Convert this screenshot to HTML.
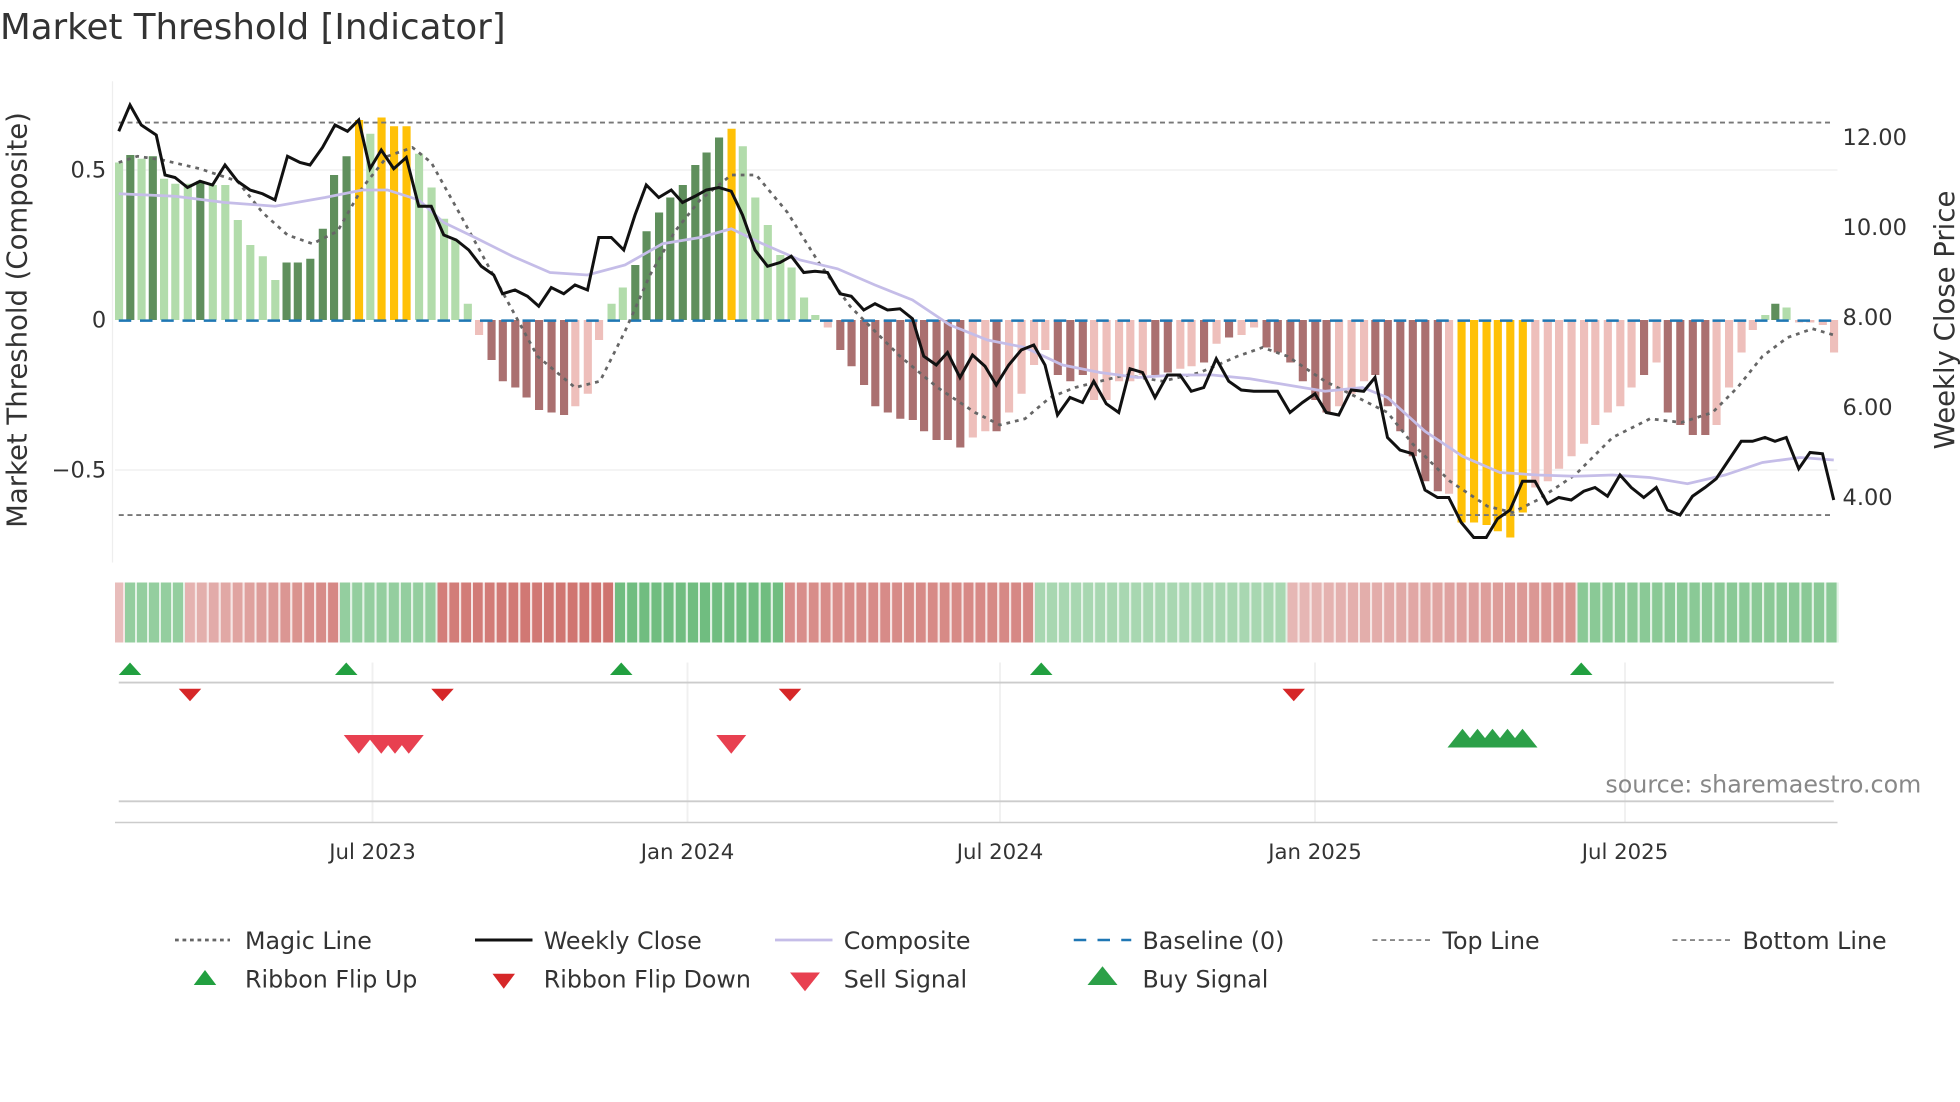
<!DOCTYPE html>
<html><head><meta charset="utf-8"><style>
html,body{margin:0;padding:0;background:#fff;}
svg{display:block;font-family:"DejaVu Sans","Liberation Sans",sans-serif;}
</style></head><body>
<svg id="s" width="1960" height="1102" viewBox="0 0 1568 881.6" preserveAspectRatio="none" xmlns="http://www.w3.org/2000/svg">
<rect width="1568" height="882" fill="#fff"/>
<text x="0" y="31" font-size="28.5" fill="#333">Market Threshold [Indicator]</text>
<line x1="90" y1="65" x2="90" y2="450" stroke="#eee"/>
<line x1="92" y1="136" x2="1470" y2="136" stroke="#eee"/>
<line x1="92" y1="376" x2="1470" y2="376" stroke="#eee"/>
<g id="bars"></g>
<line x1="95" y1="98" x2="1465" y2="98" stroke="#777" stroke-width="1.5" stroke-dasharray="4,3"/>
<line x1="95" y1="412" x2="1465" y2="412" stroke="#777" stroke-width="1.5" stroke-dasharray="4,3"/>
<line x1="95" y1="256.5" x2="1465" y2="256.5" stroke="#1f77b4" stroke-width="2" stroke-dasharray="10,7"/>
<path id="magic" fill="none" stroke="#666" stroke-width="2.2" stroke-dasharray="3,4"/>
<path id="comp" fill="none" stroke="#c5bde8" stroke-width="2.2"/>
<path id="close" fill="none" stroke="#111" stroke-width="2.4"/>
<g font-size="18" fill="#333">
<text x="85" y="142" text-anchor="end">0.5</text>
<text x="85" y="262" text-anchor="end">0</text>
<text x="85" y="382" text-anchor="end">−0.5</text>
<text x="1474" y="116">12.00</text>
<text x="1474" y="188">10.00</text>
<text x="1474" y="260">8.00</text>
<text x="1474" y="332">6.00</text>
<text x="1474" y="404">4.00</text>
</g>
<text transform="translate(21,256) rotate(-90)" font-size="22" fill="#333" text-anchor="middle">Market Threshold (Composite)</text>
<text transform="translate(1563,256) rotate(-90)" font-size="22" fill="#333" text-anchor="middle">Weekly Close Price</text>
<g id="ribbon"></g>
<g stroke="#f0f0f0" stroke-width="1.5">
<line x1="298" y1="530" x2="298" y2="658"/><line x1="550" y1="530" x2="550" y2="658"/>
<line x1="800" y1="530" x2="800" y2="658"/><line x1="1052" y1="530" x2="1052" y2="658"/>
<line x1="1300" y1="530" x2="1300" y2="658"/>
</g>
<line x1="95" y1="546" x2="1467" y2="546" stroke="#ccc" stroke-width="1.5"/>
<line x1="95" y1="641" x2="1467" y2="641" stroke="#ccc" stroke-width="1.5"/>
<line x1="92" y1="658" x2="1470" y2="658" stroke="#ccc" stroke-width="1.2"/>
<g id="marks"></g>
<text x="1537" y="634" font-size="19" fill="#888" text-anchor="end">source: sharemaestro.com</text>
<g font-size="17" fill="#333" text-anchor="middle">
<text x="298" y="687">Jul 2023</text><text x="550" y="687">Jan 2024</text><text x="800" y="687">Jul 2024</text>
<text x="1052" y="687">Jan 2025</text><text x="1300" y="687">Jul 2025</text>
</g>
<g font-size="19" fill="#333">
<line x1="140" y1="752" x2="184" y2="752" stroke="#666" stroke-width="2.2" stroke-dasharray="3,3"/><text x="196" y="759">Magic Line</text>
<line x1="380" y1="752" x2="426" y2="752" stroke="#111" stroke-width="2.4"/><text x="435" y="759">Weekly Close</text>
<line x1="620" y1="752" x2="666" y2="752" stroke="#c5bde8" stroke-width="2.2"/><text x="675" y="759">Composite</text>
<line x1="859" y1="752" x2="905" y2="752" stroke="#1f77b4" stroke-width="2" stroke-dasharray="10,9"/><text x="914" y="759">Baseline (0)</text>
<line x1="1098" y1="752" x2="1144" y2="752" stroke="#888" stroke-width="1.5" stroke-dasharray="4,3"/><text x="1154" y="759">Top Line</text>
<line x1="1338" y1="752" x2="1384" y2="752" stroke="#888" stroke-width="1.5" stroke-dasharray="4,3"/><text x="1394" y="759">Bottom Line</text>
<polygon points="155,788 173,788 164,776" fill="#22a040"/><text x="196" y="790">Ribbon Flip Up</text>
<polygon points="394,779 412,779 403,791" fill="#d62728"/><text x="435" y="790">Ribbon Flip Down</text>
<polygon points="632,778 656,778 644,793" fill="#e84050"/><text x="675" y="790">Sell Signal</text>
<polygon points="870,788 894,788 882,773" fill="#2ca048"/><text x="914" y="790">Buy Signal</text>
</g>
</svg>
<script>
const NS="http://www.w3.org/2000/svg";
function el(p,t,a){const e=document.createElementNS(NS,t);for(const k in a)e.setAttribute(k,a[k]);p.appendChild(e);return e;}
const C={g:"#b2dcab",G:"#5f8f5c",y:"#ffc107",p:"#eebfbb",R:"#aa7070"};
const bars=[[95,130,'g'],[104,124,'G'],[113,127,'g'],[122,125,'G'],[131,143,'g'],[140,147,'g'],[150,147,'g'],[160,145,'G'],[170,148,'g'],[180,148,'g'],[190,176,'g'],[200,196,'g'],[210,205,'g'],[220,224,'g'],[229,210,'G'],[238,210,'G'],[248,207,'G'],[258,183,'G'],[267,140,'G'],[277,125,'G'],[287,96,'y'],[296,107,'g'],[305,94,'y'],[315,101,'y'],[325,101,'y'],[335,123,'g'],[345,150,'g'],[355,175,'g'],[364,192,'g'],[374,243,'g'],[383,268,'p'],[393,288,'R'],[402,305,'R'],[412,310,'R'],[421,318,'R'],[431,328,'R'],[441,330,'R'],[451,332,'R'],[460,325,'p'],[470,315,'p'],[479,272,'p'],[489,243,'g'],[498,230,'g'],[508,212,'G'],[517,185,'G'],[527,170,'G'],[536,158,'G'],[546,148,'G'],[556,132,'G'],[565,122,'G'],[575,110,'G'],[585,103,'y'],[594,117,'g'],[604,158,'g'],[614,180,'g'],[624,204,'g'],[633,214,'g'],[643,238,'g'],[652,252,'g'],[662,262,'p'],[672,280,'R'],[681,293,'R'],[691,308,'R'],[700,325,'R'],[710,330,'R'],[720,335,'R'],[730,336,'R'],[739,345,'R'],[749,352,'R'],[758,352,'R'],[768,358,'R'],[778,350,'p'],[788,345,'p'],[797,345,'R'],[807,330,'p'],[817,315,'p'],[827,292,'p'],[836,280,'p'],[846,300,'R'],[856,305,'R'],[866,300,'R'],[875,320,'p'],[885,320,'p'],[895,305,'p'],[904,305,'p'],[914,300,'p'],[924,300,'R'],[934,298,'R'],[944,295,'p'],[953,293,'p'],[963,290,'R'],[973,275,'p'],[983,270,'R'],[993,268,'p'],[1003,262,'p'],[1013,278,'R'],[1022,282,'R'],[1032,290,'R'],[1042,305,'R'],[1052,320,'R'],[1061,330,'R'],[1071,325,'p'],[1081,315,'p'],[1091,305,'p'],[1100,300,'R'],[1110,325,'R'],[1120,345,'R'],[1130,365,'R'],[1140,385,'R'],[1150,393,'R'],[1159,395,'p'],[1169,418,'y'],[1179,418,'y'],[1189,420,'y'],[1198,425,'y'],[1208,430,'y'],[1218,410,'y'],[1228,390,'p'],[1238,385,'p'],[1247,375,'p'],[1257,365,'p'],[1267,355,'p'],[1276,340,'p'],[1286,330,'p'],[1296,325,'p'],[1305,310,'p'],[1315,300,'R'],[1325,290,'p'],[1334,330,'R'],[1344,340,'R'],[1354,348,'R'],[1364,348,'R'],[1373,340,'p'],[1383,310,'p'],[1393,282,'p'],[1402,264,'p'],[1412,252,'g'],[1420,243,'G'],[1429,246,'g'],[1439,258,'p'],[1448,258,'p'],[1458,260,'p'],[1467,282,'p']];
const bg=document.getElementById('bars');
bars.forEach(([x,t,c])=>{const y0=256;const top=Math.min(t,y0),h=Math.abs(t-y0);el(bg,'rect',{x:x-3,y:top,width:6.5,height:Math.max(h,1),fill:C[c]});});
function path(id,s){const a=s.trim().split(/\s+/).map(p=>p.split(':'));document.getElementById(id).setAttribute('d','M'+a.map(p=>p[0]+','+p[1]).join(' L'));}
path('close',"95:105 104:84 113:100 125:108 132:140 140:142 150:150 160:145 170:148 180:132 190:145 200:152 210:155 220:160 230:125 240:130 248:132 258:118 268:100 278:105 287:96 296:135 305:120 315:135 325:126 335:165 345:165 355:188 365:192 375:200 385:213 395:220 402:235 412:232 422:237 431:245 441:230 451:235 460:228 470:232 479:190 489:190 499:200 508:172 517:148 527:158 537:152 546:162 556:157 565:152 575:150 585:153 594:172 604:200 614:213 624:210 633:205 643:218 652:217 662:218 672:235 681:237 691:248 700:243 710:248 720:247 730:255 739:285 749:292 758:282 768:302 778:284 788:293 797:308 807:292 817:280 827:276 836:292 846:332 856:318 866:322 875:305 885:323 895:330 904:295 914:298 924:318 934:300 944:300 953:313 963:310 973:287 983:305 993:312 1003:313 1013:313 1022:313 1032:330 1042:322 1052:315 1061:330 1071:332 1081:312 1091:313 1100:302 1110:350 1120:360 1130:363 1140:392 1150:398 1159:398 1169:418 1179:430 1189:430 1198:415 1208:408 1218:385 1228:385 1238:403 1247:398 1257:400 1267:393 1276:390 1286:397 1296:380 1305:390 1315:398 1325:390 1334:408 1344:412 1354:397 1364:390 1373:383 1383:368 1393:353 1402:353 1412:350 1420:353 1429:350 1439:375 1448:362 1458:363 1467:400");
path('comp',"95:155 140:157 180:162 220:165 260:158 290:152 310:152 335:160 355:178 380:190 410:205 440:218 470:220 500:212 530:195 560:190 585:183 610:195 640:208 670:215 700:228 730:240 760:260 790:272 820:278 850:292 880:298 910:302 940:300 970:300 1000:303 1030:308 1060:313 1090:310 1110:318 1140:345 1170:365 1200:378 1230:380 1260:381 1290:380 1320:382 1350:387 1380:380 1410:370 1440:366 1467:368");
path('magic',"95:130 110:125 130:128 160:135 190:145 210:170 230:188 250:195 270:185 290:150 310:125 330:118 345:130 370:175 400:230 430:285 460:310 480:305 500:265 520:220 540:185 560:160 585:140 605:140 630:170 655:210 680:245 700:265 720:285 750:310 780:330 800:340 820:335 840:318 860:310 880:305 900:300 930:305 960:298 990:285 1010:278 1030:285 1060:305 1090:320 1110:330 1130:355 1160:385 1190:405 1210:410 1230:400 1260:380 1290:350 1320:335 1345:338 1370:330 1390:310 1410:285 1430:270 1450:263 1467:268");
const segs=[[92,100,'r',0.3],[100,148,'g',0.6],[148,272,'r',0.4,0.8],[272,350,'g',0.6],[350,492,'r',0.9,1],[492,628,'g',0.95],[628,828,'r',0.75,0.8],[828,1030,'g',0.4],[1030,1262,'r',0.35,0.7],[1262,1471,'g',0.7]];
const rb=document.getElementById('ribbon');
function mix(a,b,t){return 'rgb('+a.map((v,i)=>Math.round(v+(b[i]-v)*t)).join(',')+')';}
const W=[255,255,255],GR=[70,170,90],RD=[195,80,75];
segs.forEach(s=>{const [x0,x1,c,i0,i1]=s;const n=Math.max(1,Math.round((x1-x0)/9.75));const w=(x1-x0)/n;for(let k=0;k<n;k++){const t=i1===undefined?i0:i0+(i1-i0)*k/Math.max(1,n-1);const col=c==='g'?mix(W,GR,0.25+0.55*t):mix(W,RD,0.2+0.6*t);el(rb,'rect',{x:x0+k*w,y:466,width:w-1.6,height:48,fill:col});el(rb,'rect',{x:x0+k*w+w-1.6,y:466,width:1.6,height:48,fill:mix(W,c==='g'?GR:RD,0.15)});}});
const mk=document.getElementById('marks');
[104,277,497,833,1265].forEach(x=>el(mk,'polygon',{points:`${x-9},540 ${x+9},540 ${x},530`,fill:'#22a040'}));
[152,354,632,1035].forEach(x=>el(mk,'polygon',{points:`${x-9},551 ${x+9},551 ${x},561`,fill:'#d62728'}));
[287,305,316,327,585].forEach(x=>el(mk,'polygon',{points:`${x-12},588 ${x+12},588 ${x},603`,fill:'#e84050'}));
[1170,1182,1194,1206,1218].forEach(x=>el(mk,'polygon',{points:`${x-12},598 ${x+12},598 ${x},583`,fill:'#2ca048'}));
</script>
</body></html>
